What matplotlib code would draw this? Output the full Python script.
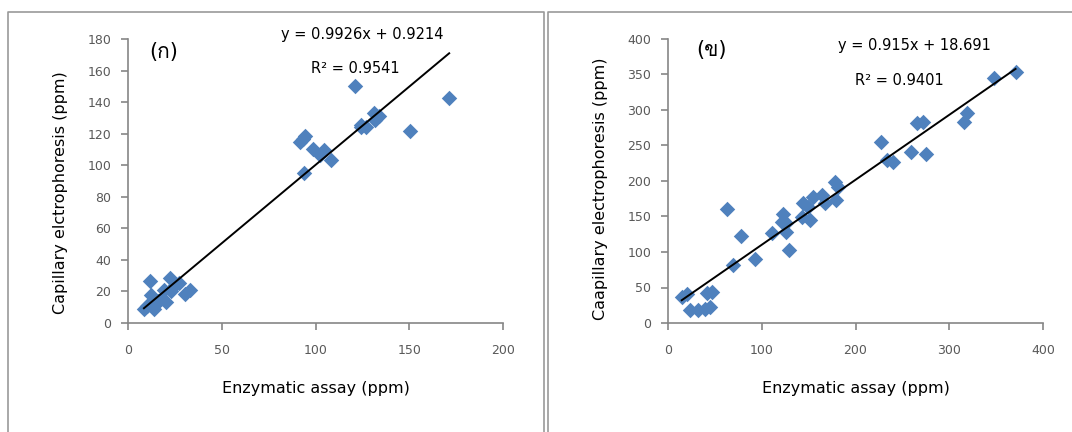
import numpy as np
import matplotlib.pyplot as plt
from matplotlib import font_manager
from matplotlib.ft2font import FT2Font
from matplotlib.lines import Line2D

# (ก) enzymatic assay vs capillary electrophoresis, ppm
x_a = [8.5, 10, 12, 14, 12, 11.7, 15, 16, 18, 20, 19, 22.4, 23, 25, 27, 30.3, 33,
       93.7, 91.8, 93.3, 94.2, 98.8, 104.3, 102.5, 108.4,
       121.2, 124.2, 124.5, 126.7, 131.3, 133.7, 131.9, 150.2, 171.3]
y_a = [9, 11, 13, 9, 18, 26.5, 12, 14, 16, 13, 21, 28.5, 20, 24, 25.5, 18.5, 21,
       95, 114.5, 116.6, 118.3, 110.5, 109.4, 106.5, 103.5,
       150.4, 125.7, 124.4, 124.2, 132.9, 131, 128.5, 121.7, 142.8]
slope_a, icept_a, r2_a = 0.9926, 0.9214, 0.9541

# (ข)
x_b = [14.6, 20.6, 23.5, 32.4, 39.5, 44.8, 41.3, 46.6, 69.7, 63.3, 77.9, 92.8,
       110.6, 123, 121.3, 125.9, 125.9, 129.4, 142.6, 143.7, 151.5, 149.7, 155,
       163.9, 167.5, 178.1, 181.7, 179.2,
       227, 233.1, 240.4, 259.5, 275.1, 265.7, 272.2, 315.7, 318.6, 348.2, 370.7]
y_b = [36.2, 40.4, 18.3, 18.3, 19.3, 23, 41.8, 43.2, 81.7, 160.6, 122.5, 89.7,
       127.2, 153.5, 142.7, 140.4, 128.6, 102.8, 149.7, 168.6, 145, 163.8, 177.9,
       180.3, 168.6, 199.1, 192.1, 173.2,
       255.4, 230, 227.2, 240.4, 238, 281.2, 282.6, 282.6, 295.3, 344.6, 354]
slope_b, icept_b, r2_b = 0.915, 18.691, 0.9401

GREY = "#868686"
BLUE = "#4F81BD"


def thai_font():
    for f in font_manager.fontManager.ttflist:
        try:
            if ord("ก") in FT2Font(f.fname).get_charmap():
                return f.name
        except Exception:
            pass
    return "DejaVu Sans"


plt.rcParams["font.family"] = ["DejaVu Sans", thai_font()]

fig = plt.figure(figsize=(10.72, 4.32), dpi=100)

# panel frames
for xs, ys in [([8, 8, 544, 544], [432, 12, 12, 432]),
               ([548, 548, 1072], [432, 12, 12])]:
    fig.add_artist(Line2D(np.array(xs) / 1072, 1 - np.array(ys) / 432,
                          color="#999999", lw=1.2, transform=fig.transFigure))


def panel(rect, x, y, slope, icept, r2, xmax, ymax, xstep, ystep, tag, eq_xy, r2_xy,
          tag_xy, ylabel, ylab_y):
    ax = fig.add_axes(rect)
    ax.scatter(x, y, marker="D", s=62, color=BLUE, linewidths=0, zorder=2)
    xl = np.array([min(x), max(x)])
    ax.plot(xl, slope * xl + icept, color="black", lw=1.4, zorder=3)
    ax.set_xlim(0, xmax)
    ax.set_ylim(0, ymax)
    ax.set_xticks(np.arange(0, xmax + 1, xstep))
    ax.set_yticks(np.arange(0, ymax + 1, ystep))
    for s in ("top", "right"):
        ax.spines[s].set_visible(False)
    for s in ("left", "bottom"):
        ax.spines[s].set_color(GREY)
        ax.spines[s].set_linewidth(1.2)
    ax.tick_params(direction="out", length=5, width=1.2, color=GREY,
                   labelcolor="#595959", labelsize=9, pad=7)
    ax.tick_params(axis="x", pad=10)
    ax.set_xlabel("Enzymatic assay (ppm)", fontsize=11.5, color="black")
    ax.xaxis.set_label_coords(0.5, -0.205)
    ax.set_ylabel(ylabel, fontsize=11.5, color="black")
    ax.yaxis.set_label_coords(-0.181, ylab_y)
    ax.yaxis.label.set_va("center")
    sign = "+" if icept >= 0 else "-"
    ax.text(*eq_xy, f"y = {slope}x {sign} {abs(icept)}", fontsize=10.5,
            color="black", ha="center", va="center", clip_on=False)
    ax.text(*r2_xy, f"R² = {r2}", fontsize=10.5, color="black",
            ha="center", va="center")
    ax.text(*tag_xy, tag, fontsize=15, color="black", ha="center", va="center")
    return ax


panel([128 / 1072, 109 / 432, 375 / 1072, 284 / 432], x_a, y_a, slope_a, icept_a, r2_a,
      200, 180, 50, 20, "(ก)", (125, 183), (121, 161), (19, 172),
      "Capillary elctrophoresis (ppm)", 0.458)
panel([668 / 1072, 109 / 432, 375 / 1072, 284 / 432], x_b, y_b, slope_b, icept_b, r2_b,
      400, 400, 100, 50, "(ข)", (263, 391), (247, 341), (46, 384),
      "Caapillary electrophoresis (ppm)", 0.472)

fig.savefig("out.png", dpi=100)
